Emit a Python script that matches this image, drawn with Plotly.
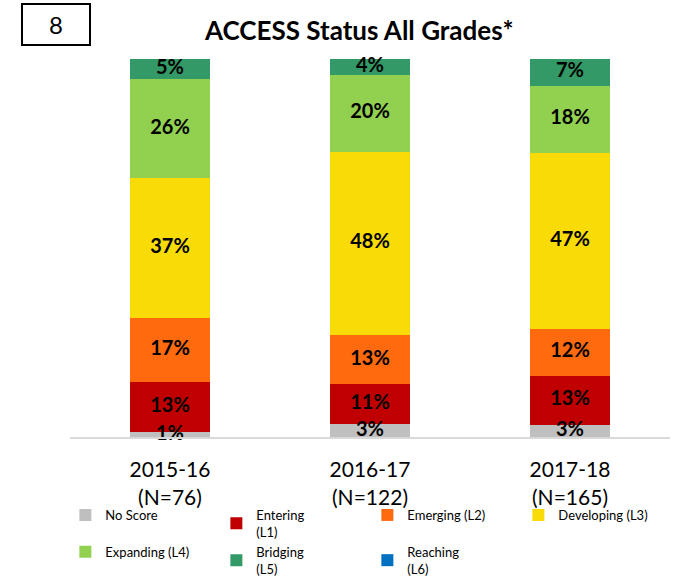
import plotly.graph_objects as go

years = ["2015-16<br>(N=76)", "2016-17<br>(N=122)", "2017-18<br>(N=165)"]

no_score = [1.3, 3.4, 3.2]
entering = [13.2, 10.6, 13.0]
emerging = [16.9, 13.0, 12.4]
developing = [37.0, 48.4, 46.6]
expanding = [26.2, 20.4, 17.6]
bridging = [5.3, 4.2, 7.4]
reaching = [0, 0, 0]

series = [
    ("No Score", no_score, "#BFBFBF"),
    ("Entering<br>(L1)", entering, "#C00000"),
    ("Emerging (L2)", emerging, "#FF6A0F"),
    ("Developing (L3)", developing, "#F9DC07"),
    ("Expanding (L4)", expanding, "#92D050"),
    ("Bridging<br>(L5)", bridging, "#339966"),
    ("Reaching<br>(L6)", reaching, "#0070C0"),
]

FONT = "Lato"

fig = go.Figure()
for name, vals, color in series:
    fig.add_trace(go.Bar(
        x=years, y=vals, name=name,
        marker=dict(color=color, line=dict(width=0)),
    ))

# segment labels drawn on top of all bars (so the thin 1% label is not hidden)
lab_x, lab_y, lab_t = [], [], []
for i, yr in enumerate(years):
    base = 0
    for name, vals, color in series:
        v = vals[i]
        if v > 0:
            lab_x.append(yr)
            lab_y.append(base + v / 2)
            lab_t.append("<b>%d%%</b>" % round(v + 1e-9))
        base += v

fig.add_trace(go.Scatter(
    x=lab_x, y=lab_y, text=lab_t, mode="text",
    textfont=dict(family=FONT, size=20, color="black"),
    showlegend=False, cliponaxis=False, hoverinfo="skip",
))

fig.update_layout(
    barmode="stack",
    bargap=0.6,
    width=688, height=576,
    margin=dict(l=70, r=18, t=59, b=139, autoexpand=False),
    plot_bgcolor="white", paper_bgcolor="white",
    font=dict(family=FONT, color="black"),
    showlegend=True,
    legend=dict(
        orientation="h", xref="container", yref="container",
        x=0.095, y=0.132, xanchor="left", yanchor="top",
        entrywidth=106, entrywidthmode="pixels",
        bgcolor="rgba(0,0,0,0)",
        font=dict(family=FONT, size=13, color="black"),
        itemwidth=30, tracegroupgap=0,
        traceorder="normal",
    ),
    xaxis=dict(
        showline=True, linecolor="#D9D9D9", linewidth=2,
        ticks="", tickfont=dict(family=FONT, size=21, color="black"),
        ticklabelstandoff=13,
        showgrid=False,
    ),
    yaxis=dict(range=[0, 100], visible=False, showgrid=False),
)

fig.add_annotation(
    text="<b>ACCESS Status All Grades*</b>",
    xref="paper", yref="paper", x=(359 - 70) / 600, y=1.0, yshift=29,
    xanchor="center", yanchor="middle", showarrow=False,
    font=dict(family=FONT, size=26, color="black"),
)

fig.add_shape(
    type="rect", xref="paper", yref="paper",
    x0=-48 / 600, x1=20 / 600, y0=1 + 14 / 378, y1=1 + 55 / 378,
    line=dict(color="black", width=2), fillcolor="white",
)
fig.add_annotation(
    text="8", xref="paper", yref="paper", x=-14 / 600, y=1 + 34.5 / 378,
    xanchor="center", yanchor="middle", showarrow=False,
    font=dict(family=FONT, size=24, color="black"),
)

fig.write_html("out.html", config={"displayModeBar": False},
               post_script="document.body.style.margin='0';")
